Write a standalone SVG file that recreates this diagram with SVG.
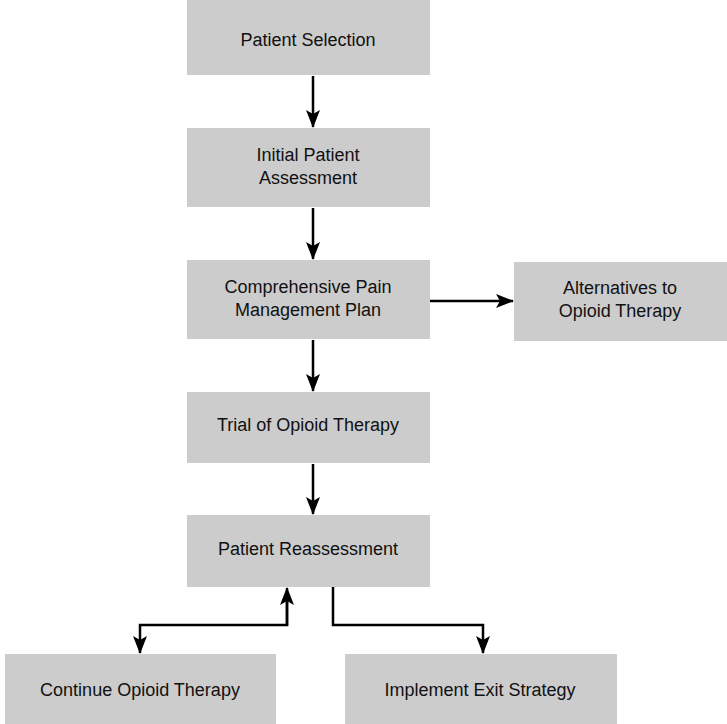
<svg xmlns="http://www.w3.org/2000/svg" width="727" height="724" viewBox="0 0 727 724">
<defs>
<style>
.box{fill:#cccccc;}
.t{font-family:"Liberation Sans",Arial,sans-serif;font-size:18px;fill:#111;text-anchor:middle;}
.c{fill:none;stroke:#000;stroke-width:2.5;}
</style>
<marker id="ah" viewBox="0 0 18 14" refX="17" refY="7" markerWidth="18" markerHeight="14" markerUnits="userSpaceOnUse" orient="auto">
<path d="M0,0 L18,7 L0,14 L4,7 Z" fill="#000"/>
</marker>
</defs>
<rect width="727" height="724" fill="#fff"/>
<g id="connectors">
<path class="c" d="M313,76 V127" marker-end="url(#ah)"/>
<path class="c" d="M313,208 V259" marker-end="url(#ah)"/>
<path class="c" d="M430,301 H513" marker-end="url(#ah)"/>
<path class="c" d="M313,340 V391" marker-end="url(#ah)"/>
<path class="c" d="M313,464 V514" marker-end="url(#ah)"/>
<path class="c" d="M287,600 V625 H140 V653" marker-end="url(#ah)"/>
<path class="c" d="M287,626 V588" marker-end="url(#ah)"/>
<path class="c" d="M333,587 V625 H483 V653" marker-end="url(#ah)"/>
</g>
<g id="n1"><rect class="box" x="187" y="0" width="243" height="75"/><text class="t" x="308" y="46">Patient Selection</text></g>
<g id="n2"><rect class="box" x="187" y="128" width="243" height="79"/><text class="t" x="308" y="161">Initial Patient</text><text class="t" x="308" y="184">Assessment</text></g>
<g id="n3"><rect class="box" x="187" y="260" width="243" height="79"/><text class="t" x="308" y="293">Comprehensive Pain</text><text class="t" x="308" y="316">Management Plan</text></g>
<g id="n4"><rect class="box" x="514" y="262" width="213" height="79"/><text class="t" x="620" y="294">Alternatives to</text><text class="t" x="620" y="317">Opioid Therapy</text></g>
<g id="n5"><rect class="box" x="187" y="392" width="243" height="71"/><text class="t" x="308" y="431">Trial of Opioid Therapy</text></g>
<g id="n6"><rect class="box" x="187" y="515" width="243" height="72"/><text class="t" x="308" y="555">Patient Reassessment</text></g>
<g id="n7"><rect class="box" x="5" y="654" width="271" height="70"/><text class="t" x="140" y="696">Continue Opioid Therapy</text></g>
<g id="n8"><rect class="box" x="345" y="654" width="272" height="70"/><text class="t" x="480" y="696">Implement Exit Strategy</text></g>
</svg>
